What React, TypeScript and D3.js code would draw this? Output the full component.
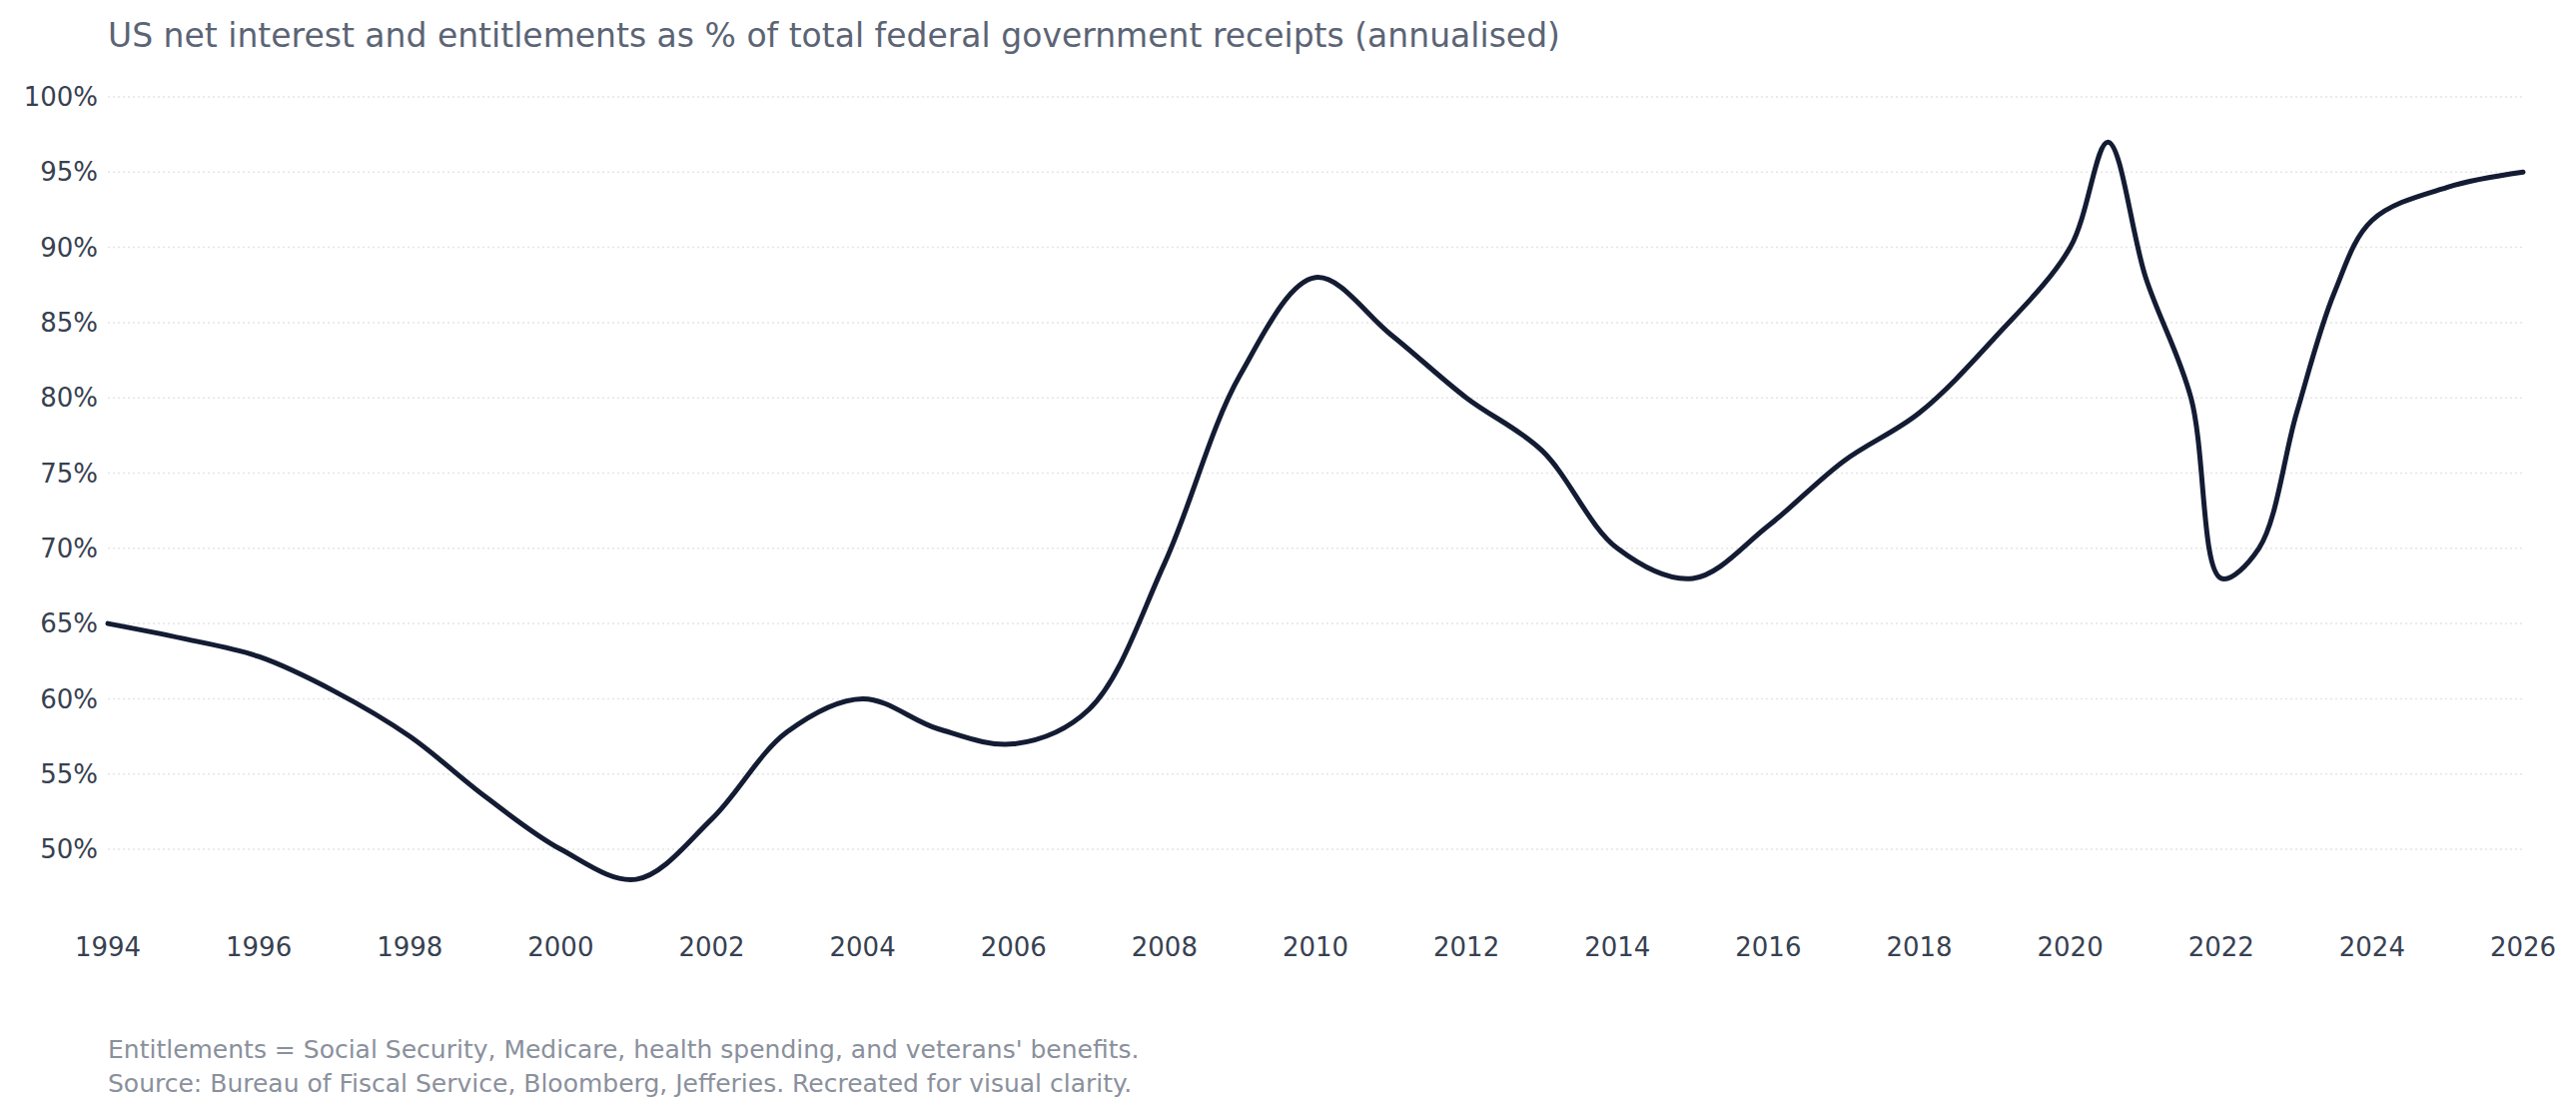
import * as d3 from "d3";

const years = [1994, 1995, 1996, 1997, 1998, 1999, 2000, 2001, 2002, 2003, 2004, 2005, 2006, 2007, 2008, 2009, 2010, 2011, 2012, 2013, 2014, 2015, 2016, 2017, 2018, 2019, 2020, 2020.5, 2021, 2021.6, 2022, 2022.5, 2023, 2023.5, 2024, 2025, 2026];
const values = [65, 64, 62.8, 60.5, 57.5, 53.5, 50, 48, 52, 57.8, 60, 58, 57, 59.3, 69, 81.5, 88, 84.2, 80, 76.5, 70, 68, 71.5, 75.8, 79, 84, 90, 97, 88, 80, 68, 70, 79, 87, 91.8, 94, 95];
const yTicks = [50, 55, 60, 65, 70, 75, 80, 85, 90, 95, 100];
const xTicks = d3.range(1994, 2027, 2);

const W = 2579, H = 1118;
const font = "DejaVu Sans, sans-serif";

export default function App() {
  const x = d3.scaleLinear().domain([1994, 2026]).range([108, 2526]);
  const y = d3.scaleLinear().domain([50, 100]).range([850, 97]);
  const line = d3
    .line<number>()
    .x((_, i) => x(years[i]))
    .y((v) => y(v))
    .curve(d3.curveCatmullRom.alpha(0.5));

  return (
    <svg width={W} height={H} style={{ position: "absolute", left: 0, top: 0, background: "#fff" }} fontFamily={font}>
      <text x={108} y={47} fontSize={33} fill="#5b6475">
        US net interest and entitlements as % of total federal government receipts (annualised)
      </text>
      {yTicks.map((t) => (
        <g key={t}>
          <line x1={108} x2={2526} y1={y(t)} y2={y(t)} stroke="#e3e5e8" strokeWidth={1.5} strokeDasharray="2,3" />
          <text x={98} y={y(t)} dy="0.35em" textAnchor="end" fontSize={26} fill="#374151">
            {t}%
          </text>
        </g>
      ))}
      {xTicks.map((t) => (
        <text key={t} x={x(t)} y={957} textAnchor="middle" fontSize={26} fill="#374151">
          {t}
        </text>
      ))}
      <path d={line(values) ?? ""} fill="none" stroke="#131c33" strokeWidth={5} strokeLinejoin="round" strokeLinecap="round" />
      <text x={108} y={1059} fontSize={25} fill="#8a909c">
        Entitlements = Social Security, Medicare, health spending, and veterans' benefits.
      </text>
      <text x={108} y={1093} fontSize={25} fill="#8a909c">
        Source: Bureau of Fiscal Service, Bloomberg, Jefferies. Recreated for visual clarity.
      </text>
    </svg>
  );
}
